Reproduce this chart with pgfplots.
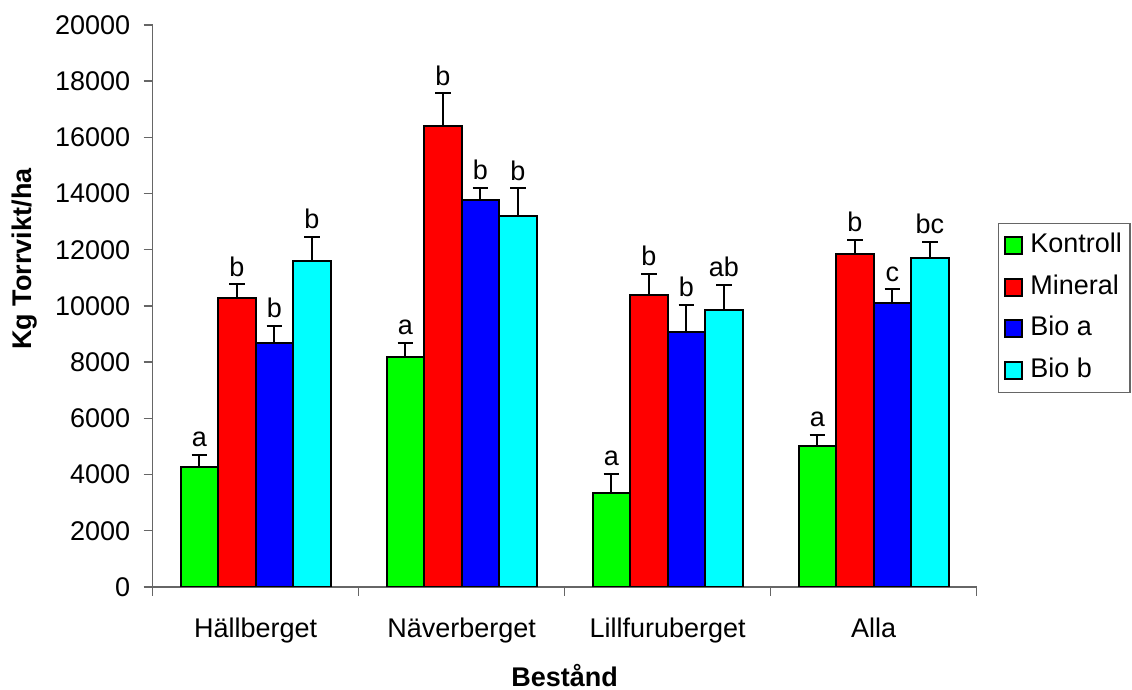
\documentclass[border=0pt]{standalone}
\usepackage{pgfplots}
\pgfplotsset{compat=1.18}
\usepackage{pgfplotstable}
\usepackage{fontspec}
\setmainfont{Liberation Sans}
\definecolor{cK}{RGB}{0,255,0}
\definecolor{cM}{RGB}{255,0,0}
\definecolor{cA}{RGB}{0,0,255}
\definecolor{cB}{RGB}{0,255,255}
\newcommand\ff{\fontsize{13.5pt}{16pt}\selectfont}

\pgfplotstableread{
x y e l
0 4284 410 a
1 8188 490 a
2 3333 690 a
3 5030 390 a
}\kontroll
\pgfplotstableread{
x y e l
0 10272 500 b
1 16400 1165 b
2 10380 760 b
3 11839 520 b
}\mineral
\pgfplotstableread{
x y e l
0 8686 615 b
1 13777 430 b
2 9075 975 b
3 10119 475 c
}\bioa
\pgfplotstableread{
x y e l
0 11598 850 b
1 13213 970 b
2 9846 915 ab
3 11720 560 bc
}\biob

\pgfplotsset{
  mybar/.style={
    draw=black, line width=1pt,
    error bars/.cd, y dir=plus, y explicit,
      error bar style={black,line width=1pt},
      error mark options={rotate=90,black,line width=1pt,mark size=3.9pt},
    /pgfplots/.cd,
    point meta=explicit symbolic,
    visualization depends on={\thisrow{e}*0.01405 \as \errv},
    nodes near coords,
    nodes near coords style={font=\ff, anchor=south, inner sep=0pt, yshift=3.5pt+\errv pt, text=black},
  },
  sqlegend/.style={
    legend image code/.code={\draw[##1,draw=black,line width=1pt] (0pt,-4.25pt) rectangle (8.5pt,4.25pt); \path (0pt,0pt) (11pt,0pt);}
  }
}

\begin{document}
\begin{tikzpicture}
\begin{axis}[
  scale only axis, width=412pt, height=281pt,
  ybar=0pt, bar width=18.75pt,
  every axis plot post/.append style={sqlegend},
  xmin=-0.5, xmax=3.5, ymin=0, ymax=20000,
  axis lines*=left,
  axis line style={draw=gray!80!black, line width=0.7pt},
  tick align=outside,
  major tick length=4.5pt,
  minor tick length=4.5pt,
  tick style={draw=gray!80!black, line width=0.7pt},
  xtick={0,1,2,3},
  xticklabels={Hällberget,Näverberget,Lillfuruberget,Alla},
  minor xtick={-0.5,0.5,1.5,2.5,3.5},
  every major x tick/.append style={draw=none},
  xticklabel style={anchor=north, inner sep=0pt, text height=9.7pt, yshift=-11pt},
  ytick={0,2000,...,20000},
  scaled y ticks=false,
  yticklabel style={/pgf/number format/1000 sep={}, /pgf/number format/assume math mode=true, xshift=-3.2pt},
  tick label style={font=\ff},
  xlabel={Bestånd},
  ylabel={Kg Torrvikt/ha},
  xlabel style={font=\ff\bfseries, at={(axis description cs:0.5,0)}, anchor=north, inner sep=0pt, text height=9.7pt, yshift=-39.85pt},
  ylabel style={font=\ff\bfseries, at={(axis description cs:0,0.5836)}, anchor=center, yshift=63.85pt},
  legend style={at={(1.0255,0.648)}, anchor=north west, draw=gray!80!black, line width=0.7pt, font=\ff,
    inner xsep=3pt, inner ysep=3.6pt, row sep=5.75pt,
    nodes={inner sep=1pt, text height=10pt, text depth=3pt}},
  legend cell align=left,
]
\addplot[mybar, fill=cK] table[x=x, y=y, y error=e, meta=l] {\kontroll};
\addplot[mybar, fill=cM] table[x=x, y=y, y error=e, meta=l] {\mineral};
\addplot[mybar, fill=cA] table[x=x, y=y, y error=e, meta=l] {\bioa};
\addplot[mybar, fill=cB] table[x=x, y=y, y error=e, meta=l] {\biob};
\legend{Kontroll,Mineral,Bio a,Bio b}
\end{axis}
\pgfresetboundingbox
\path ([xshift=-76.35pt,yshift=-51.5pt]current axis.south west) rectangle ([xshift=489.65pt,yshift=293.5pt]current axis.south west);
\end{tikzpicture}
\end{document}
